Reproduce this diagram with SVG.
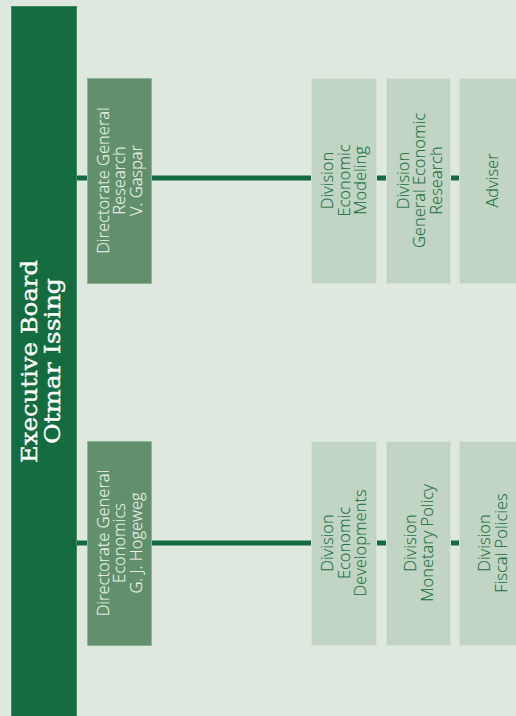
<svg xmlns="http://www.w3.org/2000/svg" width="516" height="716" viewBox="0 0 516 716">
<style>
.bg{fill:#dfe8df}
.exec{fill:#136b3f;stroke:#3f8a5f;stroke-width:1}
.dir{fill:#62906d;stroke:#8db496;stroke-width:1}
.div{fill:#c2d5c5;stroke:#d3e2d5;stroke-width:1}
.conn{stroke:#136b3f;stroke-width:5;fill:none}
.t-exec{font-family:"DejaVu Serif",serif;font-size:23px;font-weight:normal;fill:#ffffff;stroke:#ffffff;stroke-width:0.4}
.t-dir{font-family:"Open Sans","Noto Sans",sans-serif;font-size:16.5px;font-weight:300;fill:#eef4ee;stroke:#eef4ee;stroke-width:0.15}
.t-div{font-family:"Open Sans","Noto Sans",sans-serif;font-size:16.5px;font-weight:300;fill:#17703f;stroke:#17703f;stroke-width:0.15}
</style>
<rect class="bg" x="0" y="0" width="516" height="716"/>
<g id="connectors">
  <line class="conn" x1="76" y1="178" x2="88" y2="178"/>
  <line class="conn" x1="151" y1="178" x2="312" y2="178"/>
  <line class="conn" x1="376" y1="178" x2="387" y2="178"/>
  <line class="conn" x1="450" y1="178" x2="460" y2="178"/>
  <line class="conn" x1="76" y1="543" x2="88" y2="543"/>
  <line class="conn" x1="151" y1="543" x2="312" y2="543"/>
  <line class="conn" x1="376" y1="543" x2="387" y2="543"/>
  <line class="conn" x1="450" y1="543" x2="460" y2="543"/>
</g>
<g id="executive-board">
  <rect class="exec" x="11.5" y="6.5" width="65" height="720"/>
  <text class="t-exec" transform="rotate(-90)" text-anchor="middle"><tspan x="-361.5" y="37" textLength="203" lengthAdjust="spacingAndGlyphs">Executive Board</tspan><tspan x="-361" y="60" textLength="166" lengthAdjust="spacingAndGlyphs">Otmar Issing</tspan></text>
</g>
<g id="dg-research">
  <rect class="dir" x="87.5" y="78.5" width="64" height="205"/>
  <text class="t-dir" transform="rotate(-90)" text-anchor="middle"><tspan x="-180.5" y="108.5">Directorate General</tspan><tspan x="-180.5" y="125">Research</tspan><tspan x="-180.5" y="141.5">V. Gaspar</tspan></text>
</g>
<g id="dg-economics">
  <rect class="dir" x="87.5" y="441.5" width="64" height="204"/>
  <text class="t-dir" transform="rotate(-90)" text-anchor="middle"><tspan x="-543" y="108.5">Directorate General</tspan><tspan x="-543" y="125">Economics</tspan><tspan x="-543" y="141.5">G. J. Hogeweg</tspan></text>
</g>
<g id="div-economic-modeling">
  <rect class="div" x="311.5" y="78.5" width="65" height="205"/>
  <text class="t-div" transform="rotate(-90)" text-anchor="middle"><tspan x="-180.5" y="333">Division</tspan><tspan x="-180.5" y="349.5">Economic</tspan><tspan x="-180.5" y="366">Modeling</tspan></text>
</g>
<g id="div-general-economic-research">
  <rect class="div" x="386.5" y="78.5" width="64" height="205"/>
  <text class="t-div" transform="rotate(-90)" text-anchor="middle"><tspan x="-180.5" y="408.5">Division</tspan><tspan x="-180.5" y="425">General Economic</tspan><tspan x="-180.5" y="441.5">Research</tspan></text>
</g>
<g id="adviser">
  <rect class="div" x="459.5" y="78.5" width="65" height="205"/>
  <text class="t-div" transform="rotate(-90)" text-anchor="middle"><tspan x="-180.5" y="498">Adviser</tspan></text>
</g>
<g id="div-economic-developments">
  <rect class="div" x="311.5" y="441.5" width="65" height="204"/>
  <text class="t-div" transform="rotate(-90)" text-anchor="middle"><tspan x="-543" y="333">Division</tspan><tspan x="-543" y="349.5">Economic</tspan><tspan x="-543" y="366">Developments</tspan></text>
</g>
<g id="div-monetary-policy">
  <rect class="div" x="386.5" y="441.5" width="64" height="204"/>
  <text class="t-div" transform="rotate(-90)" text-anchor="middle"><tspan x="-543" y="416">Division</tspan><tspan x="-543" y="432.5">Monetary Policy</tspan></text>
</g>
<g id="div-fiscal-policies">
  <rect class="div" x="459.5" y="441.5" width="65" height="204"/>
  <text class="t-div" transform="rotate(-90)" text-anchor="middle"><tspan x="-543" y="490">Division</tspan><tspan x="-543" y="506.5">Fiscal Policies</tspan></text>
</g>
</svg>
